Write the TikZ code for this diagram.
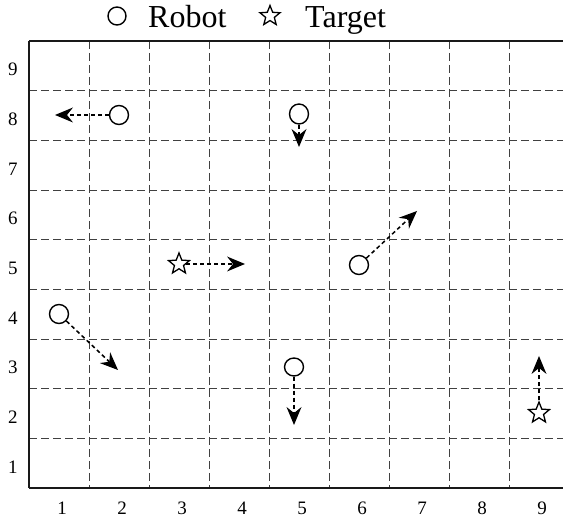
\documentclass[tikz,border=0pt]{standalone}
\usepackage{fontspec}
\setmainfont{Liberation Serif}
\usetikzlibrary{shapes.geometric,arrows.meta}
\begin{document}
\begin{tikzpicture}[x=1pt,y=-1pt,
  gridline/.style={draw=black!75,line width=1pt,dash pattern=on 8pt off 4pt},
  frameline/.style={draw=black!90,line width=1.2pt},
  robot/.style={circle,draw,line width=1.4pt,minimum size=19pt,inner sep=0pt},
  target/.style={star,star points=5,star point ratio=2.3,draw,line width=1.3pt,minimum size=22pt,inner sep=0pt},
  movetip/.tip={Stealth[length=18pt,width=15pt,inset=6pt,line width=0pt]},
  move/.style={line width=1.5pt,dash pattern=on 4pt off 3pt,-movetip},
  axlab/.style={font=\fontsize{19}{19}\selectfont,inner sep=0pt},
  legtext/.style={font=\fontsize{32}{32}\selectfont,inner sep=0pt,anchor=base west},
]
\useasboundingbox (0,0) rectangle (563,521);
% grid
\foreach \i in {1,...,8} {
  \draw[gridline] ({29+60*\i},41) -- ({29+60*\i},488);
  \draw[gridline] (29,{41+49.67*\i}) -- (563,{41+49.67*\i});
}
\draw[frameline] (29,41) -- (563,41);
\draw[frameline] (29,488) -- (563,488);
\draw[frameline] (29,41) -- (29,488);
% axis labels
\foreach \i in {1,...,9} {
  \node[axlab] (x\i) at ({2+60*\i},508) {\i};
  \node[axlab] (y\i) at (13,{516.5-49.67*\i}) {\i};
}
% legend
\node[robot,minimum size=18pt] (legr) at (117,16) {};
\node[legtext] (legrt) at (148,28) {Robot};
\node[target,minimum size=21pt] (legt) at (270,16) {};
\node[legtext] (legtt) at (305,28) {Target};
% robots
\node[robot] (r1) at (119,115) {};
\coordinate (e1) at (55,115);
\node[robot,minimum width=19pt,minimum height=20pt,ellipse] (r2) at (299,114) {};
\coordinate (e2) at (299,147);
\node[robot] (r3) at (59,314) {};
\coordinate (e3) at (118,370);
\node[robot] (r4) at (359,265) {};
\coordinate (e4) at (417,211);
\node[robot,minimum width=19pt,minimum height=18pt,ellipse] (r5) at (294,367) {};
\coordinate (e5) at (294,425);
% targets
\node[target] (s1) at (179,264) {};
\coordinate (f1) at (245,264);
\node[target] (s2) at (539,413) {};
\coordinate (f2) at (539,356);
% moves
\draw[move] (r1) -- (e1);
\draw[move] (r2) -- (e2);
\draw[move] (r3) -- (e3);
\draw[move] (r4) -- (e4);
\draw[move] (r5) -- (e5);
\draw[move] (s1) -- (f1);
\draw[move] (s2) -- (f2);
\end{tikzpicture}
\end{document}
